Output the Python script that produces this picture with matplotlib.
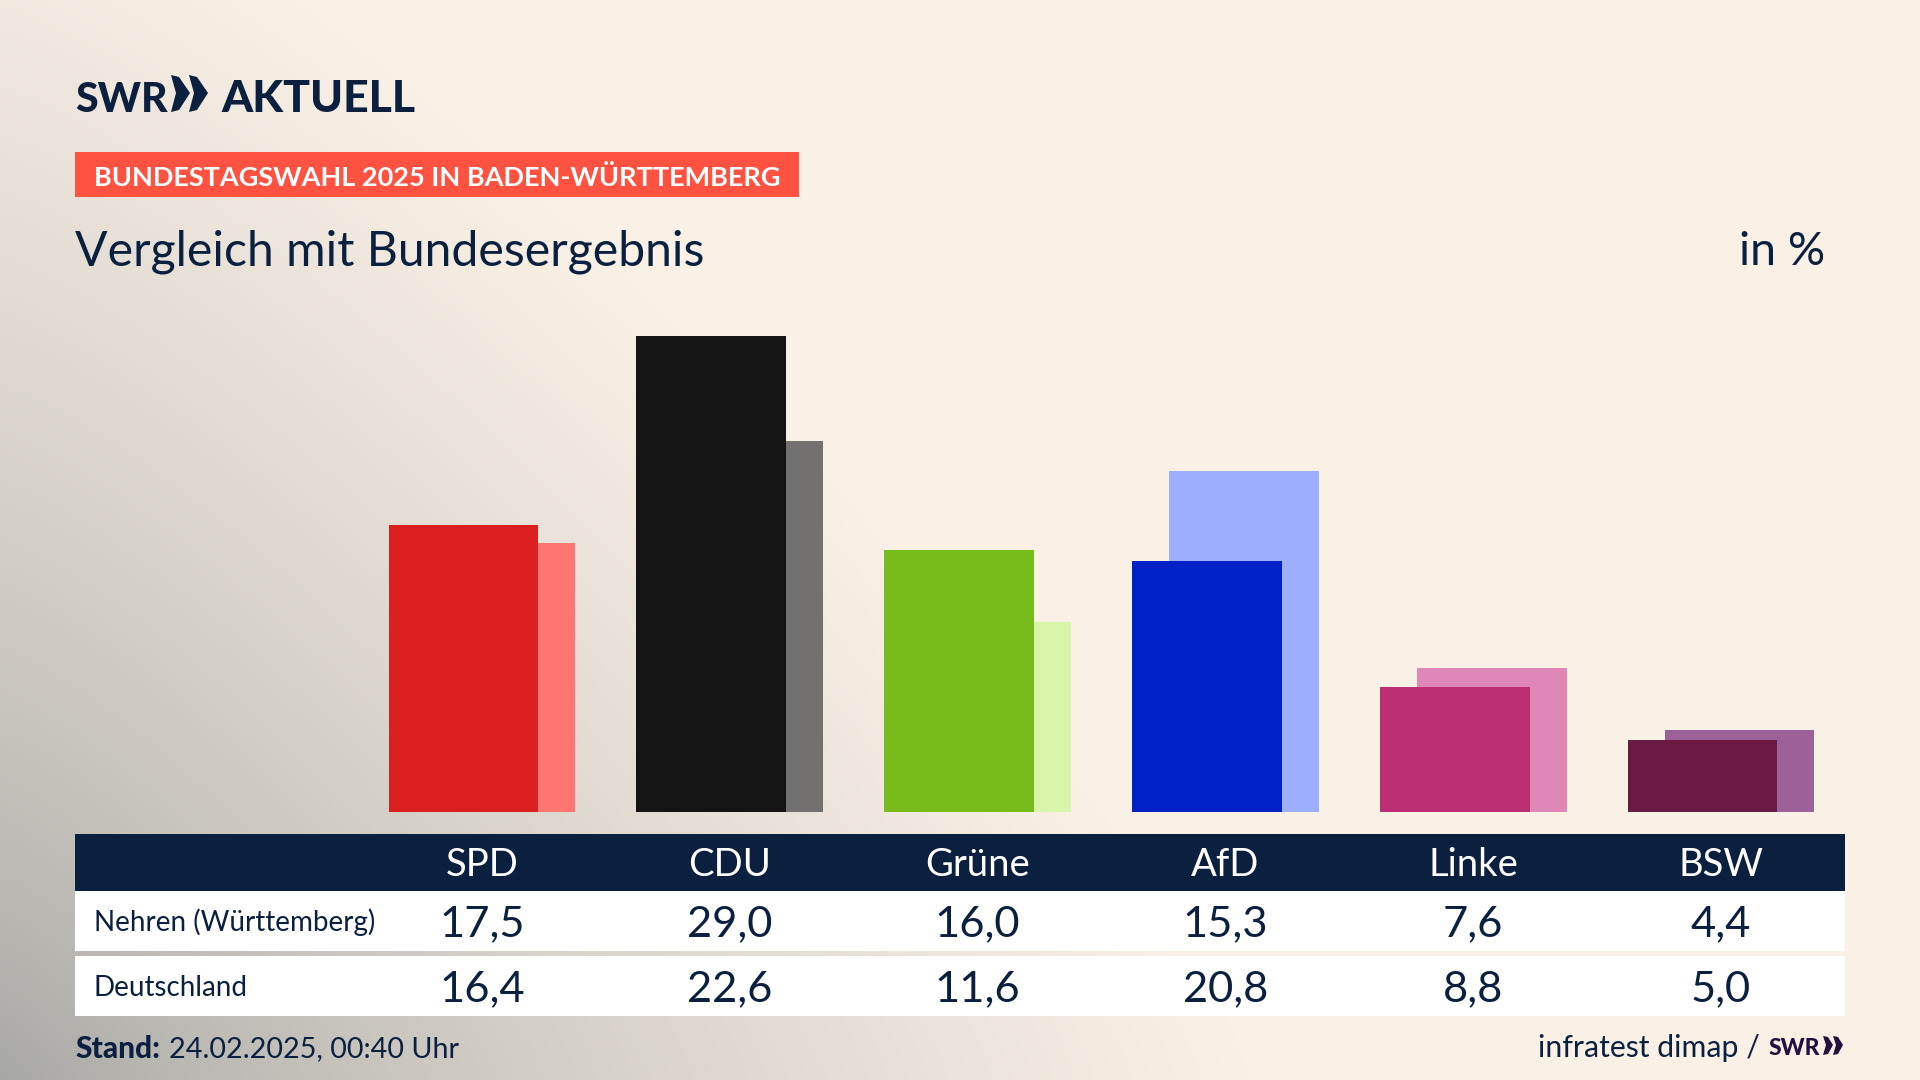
import numpy as np
import matplotlib.pyplot as plt
from matplotlib.patches import Polygon, Rectangle

parties = ["SPD", "CDU", "Grüne", "AfD", "Linke", "BSW"]
nehren = [17.5, 29.0, 16.0, 15.3, 7.6, 4.4]
deutschland = [16.4, 22.6, 11.6, 20.8, 8.8, 5.0]
front_colors = ["#D9201E", "#141414", "#78BC1B", "#0021C5", "#BC2F74", "#6B1A43"]
back_colors = ["#FF7570", "#72716F", "#D8F5A9", "#9DADFF", "#DF88B7", "#9C6199"]
row_names = ["Nehren (Württemberg)", "Deutschland"]

NAVY = "#0B1F3F"
PURPLE = "#23103F"
W, H = 1920, 1080
plt.rcParams["font.family"] = ["Lato", "DejaVu Sans"]

fig = plt.figure(figsize=(19.2, 10.8), dpi=100)

# background, grey corner bottom left fading into cream
bg = fig.add_axes([0, 0, 1, 1])
xx, yy = np.meshgrid(np.linspace(0, W, 480), np.linspace(0, H, 270))
p = 1.25
dist = (xx ** p + (H - yy) ** p) ** (1 / p) / 1250
t = np.clip(dist, 0, 1)[..., None] ** 0.75
corner = np.array([0xA6, 0xA6, 0xA3]) / 255
cream = np.array([0xFA, 0xF1, 0xE6]) / 255
bg.imshow(corner * (1 - t) + cream * t, extent=[0, W, H, 0], aspect="auto")
bg.set_xlim(0, W)
bg.set_ylim(H, 0)
bg.axis("off")

# bars
col0 = 482
step = 247.8
base = 812
px_per_unit = 16.4
ax = fig.add_axes([75 / W, (H - base) / H, 1770 / W, 520 / H])
ax.patch.set_alpha(0)
x = np.arange(len(parties))
ax.bar(x + 0.0746, deutschland, width=0.605, color=back_colors, zorder=1)
ax.bar(x - 0.0746, nehren, width=0.605, color=front_colors, zorder=2)
ax.set_xlim((75 - col0) / step, (1845 - col0) / step)
ax.set_ylim(0, 520 / px_per_unit)
ax.axis("off")

# header part
bg.text(75, 112, "SWR", fontsize=29.5, fontweight="black", color=NAVY, va="baseline", ha="left")
for dx in (0, 18):
    bg.add_patch(Polygon([[171 + dx, 75], [179 + dx, 77], [190 + dx, 93], [179 + dx, 110], [171 + dx, 112], [176 + dx, 93]],
                         closed=True, color=NAVY, lw=0))
bg.text(221, 112, "AKTUELL", fontsize=32, fontweight="black", color=NAVY, va="baseline", ha="left")

bg.add_patch(Rectangle((75, 152), 724, 45, color="#FF5240", lw=0))
bg.text(94, 177, "BUNDESTAGSWAHL 2025 IN BADEN-WÜRTTEMBERG", fontsize=19.5, fontweight="bold",
        color="white", va="center", ha="left")
bg.text(75, 252, "Vergleich mit Bundesergebnis", fontsize=34.7, color=NAVY, va="center", ha="left")
bg.text(1825, 252, "in %", fontsize=33.5, color=NAVY, va="center", ha="right")

# table
bg.add_patch(Rectangle((75, 834), 1770, 57, color=NAVY, lw=0))
bg.add_patch(Rectangle((75, 891), 1770, 60, color="white", lw=0))
bg.add_patch(Rectangle((75, 956), 1770, 60, color="white", lw=0))
for i, name in enumerate(parties):
    cx = col0 + step * i
    bg.text(cx, 865, name, fontsize=27.5, color="white", va="center", ha="center")
    bg.text(cx, 924, f"{nehren[i]:.1f}".replace(".", ","), fontsize=31.3, color=NAVY, va="center", ha="center")
    bg.text(cx, 989, f"{deutschland[i]:.1f}".replace(".", ","), fontsize=31.3, color=NAVY, va="center", ha="center")
bg.text(94, 922, row_names[0], fontsize=20, color=NAVY, va="center", ha="left")
bg.text(94, 988, row_names[1], fontsize=20, color=NAVY, va="center", ha="left")

# footer
bg.text(75, 1049, "Stand:", fontsize=21.5, fontweight="black", color=NAVY, va="center", ha="left")
bg.text(169, 1049, "24.02.2025, 00:40 Uhr", fontsize=20.7, color=NAVY, va="center", ha="left")
bg.text(1760, 1048, "infratest dimap /", fontsize=21.8, color=NAVY, va="center", ha="right")
bg.text(1769, 1055, "SWR", fontsize=16.4, fontweight="black", color=PURPLE, va="baseline", ha="left")
for dx in (0, 10):
    bg.add_patch(Polygon([[1823 + dx, 1036], [1828 + dx, 1037], [1833 + dx, 1045], [1828 + dx, 1054], [1823 + dx, 1055], [1826 + dx, 1045]],
                         closed=True, color=PURPLE, lw=0))

fig.savefig("out.png", dpi=100)
